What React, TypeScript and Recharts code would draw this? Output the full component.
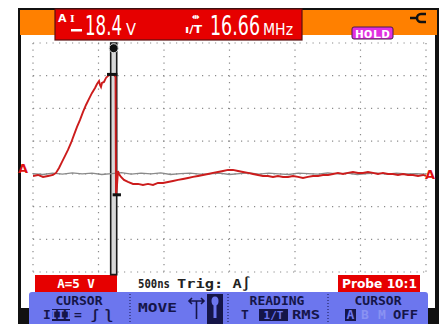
import React from "react";
import {
  LineChart,
  Line,
  XAxis,
  YAxis,
  CartesianGrid,
  ReferenceArea,
  ReferenceLine,
  ReferenceDot,
} from "recharts";

// 500 ns / div, 12 divisions
const timeTicks = [0, 500, 1000, 1500, 2000, 2500, 3000, 3500, 4000, 4500, 5000, 5500, 6000];
// 5 V / div, trace A zero on the 4th line from the top
const voltTicks = [-15, -10, -5, 0, 5, 10, 15, 20];

// trace A (red), time in ns, volts
const redTime = [
  0, 76, 153, 229, 305, 351, 397, 443, 489, 534, 580, 626, 672, 718, 764, 809, 855, 901, 947, 977,
  1008, 1023, 1038, 1053, 1084, 1114, 1145, 1191, 1237, 1260, 1267, 1282, 1298, 1313, 1344, 1389,
  1450, 1527, 1603, 1679, 1756, 1832, 1908, 1985, 2061, 2137, 2214, 2290, 2366, 2443, 2519, 2595,
  2672, 2748, 2824, 2901, 2977, 3053, 3130, 3206, 3282, 3359, 3435, 3511, 3588, 3664, 3740, 3817,
  3893, 3969, 4046, 4122, 4198, 4275, 4351, 4427, 4504, 4580, 4656, 4733, 4809, 4885, 4962, 5038,
  5114, 5191, 5267, 5343, 5420, 5496, 5572, 5649, 5725, 5801, 5878, 5954, 6000,
];
const redVolt = [
  -0.32, -0.17, -0.47, -0.32, -0.17, 0.14, 0.9, 1.82, 2.74, 3.65, 4.72, 5.95, 7.17, 8.24, 9.46,
  10.53, 11.45, 12.37, 13.13, 13.74, 14.2, 13.59, 13.29, 13.9, 14.05, 14.66, 14.97, 15.27, 15.12,
  14.81, -3.38, -1.85, 0.44, -0.02, -0.47, -0.93, -1.24, -1.54, -1.54, -1.7, -1.54, -1.7, -1.39,
  -1.39, -1.24, -1.09, -0.93, -0.78, -0.63, -0.47, -0.32, -0.17, -0.02, 0.14, 0.29, 0.44, 0.6, 0.6,
  0.44, 0.29, 0.14, -0.02, -0.17, -0.32, -0.32, -0.47, -0.32, -0.47, -0.47, -0.32, -0.47, -0.63,
  -0.47, -0.32, -0.32, -0.17, -0.17, -0.02, 0.14, -0.02, 0.14, 0.29, 0.14, 0.14, 0.29, 0.14, -0.02,
  0.14, -0.02, -0.02, -0.17, -0.02, -0.17, -0.17, -0.32, -0.17, -0.32,
];

// reference trace (grey)
const grayTime = [
  0, 150, 300, 450, 600, 750, 900, 1050, 1200, 1350, 1500, 1650, 1800, 1950, 2100, 2250, 2400,
  2550, 2700, 2850, 3000, 3150, 3300, 3450, 3600, 3750, 3900, 4050, 4200, 4350, 4500, 4650, 4800,
  4950, 5100, 5250, 5400, 5550, 5700, 5850, 6000,
];
const grayVolt = [
  0.05, -0.1, 0.1, -0.05, 0.15, 0, 0.1, -0.1, 0.05, 0.2, -0.05, 0.1, 0, 0.15, -0.1, 0.05, 0.1,
  -0.05, 0, 0.1, -0.1, 0.05, 0.15, -0.05, 0.1, 0, -0.1, 0.1, 0.05, -0.05, 0.15, 0, 0.1, -0.1, 0.05,
  0.1, -0.05, 0.1, 0, 0.05, -0.05,
];

// cursor
const cursorStart = 1186;
const cursorEnd = 1278;
const cursorHigh = 15.2;
const cursorLow = -3.2;

const readVolt = "18.4";
const readFreq = "16.66";

const redData = redTime.map((t, i) => ({ t, v: redVolt[i] }));
const grayData = grayTime.map((t, i) => ({ t, v: grayVolt[i] }));

const mono = "'DejaVu Sans Mono', monospace";
const sans = "'DejaVu Sans', sans-serif";
const cond = "'DejaVu Sans Condensed', 'DejaVu Sans', sans-serif";
const navy = "#151548";
const blue = "#6c76ee";
const red = "#e60000";

// big readout digits, squeezed horizontally like the scope font
const Squeezed = ({ x, w, size, sx, children }: { x: number; w: number; size: number; sx: number; children: string }) => (
  <text
    transform={`translate(${x} 35) scale(${sx} 1)`}
    x={0}
    y={0}
    fontSize={size}
    fontFamily={cond}
    textLength={w / sx}
    lengthAdjust="spacingAndGlyphs"
  >
    {children}
  </text>
);

const Chrome = () => (
  <svg width={446} height={324} style={{ position: "absolute", left: 0, top: 0 }}>
    <rect x={18} y={8} width={421} height={316} fill="#111" />
    <rect x={21} y={11} width={414} height={297} fill="#fff" />
    <rect x={20} y={10} width={417} height={25} fill="#ff8000" />
    {/* readout */}
    <rect x={55} y={9} width={247} height={31} fill={red} stroke="#5a1010" strokeWidth={1.2} />
    <g fill="#fff">
      <text x={58} y={22} fontSize={11} fontWeight="bold" fontFamily={sans}>A</text>
      <text x={70} y={22} fontSize={10} fontWeight="bold" fontFamily="'DejaVu Serif', serif">I</text>
      <rect x={71} y={29} width={11} height={2.5} />
      <Squeezed x={85} w={37} size={26} sx={0.68}>{readVolt}</Squeezed>
      <Squeezed x={126} w={10} size={15} sx={0.9}>V</Squeezed>
      <text x={192} y={20} fontSize={9} fontWeight="bold" fontFamily={sans}>⇹</text>
      <text x={185} y={33} fontSize={10} fontWeight="bold" fontFamily={sans} textLength={17} lengthAdjust="spacingAndGlyphs">ı/T</text>
      <Squeezed x={210} w={50} size={26} sx={0.72}>{readFreq}</Squeezed>
      <Squeezed x={263} w={30} size={15} sx={0.9}>MHz</Squeezed>
    </g>
    <rect x={352} y={27} width={41} height={12} rx={2} fill="#e030e0" stroke="#4a1a4a" />
    <text x={355} y={37.5} fontSize={11} fontWeight="bold" fontFamily={mono} fill="#fff" textLength={35} lengthAdjust="spacingAndGlyphs">HOLD</text>
    <g stroke="#111" strokeWidth={2.5} fill="none">
      <path d="M410 18 H417" />
      <path d="M426 14 H421 A4 4 0 0 0 421 22 H426" />
    </g>
    {/* bottom status */}
    <rect x={35} y={275} width={82} height={17} fill={red} />
    <text x={76} y={288} fontSize={12.5} fontWeight="bold" fontFamily={mono} fill="#fff" textAnchor="middle">A=5 V</text>
    <text x={138} y={288} fontSize={13} fontWeight="bold" fontFamily={mono} fill="#222" textLength={32} lengthAdjust="spacingAndGlyphs">500ns</text>
    <text x={177} y={288} fontSize={13} fontWeight="bold" fontFamily={mono} fill="#222" textLength={74} lengthAdjust="spacingAndGlyphs">Trig: A∫</text>
    <rect x={338} y={275} width={82} height={17} fill={red} />
    <text x={342} y={288} fontSize={13} fontWeight="bold" fontFamily={sans} fill="#fff" textLength={75} lengthAdjust="spacingAndGlyphs">Probe 10:1</text>
    {/* soft keys */}
    <rect x={29} y={292} width={399} height={34} rx={3} fill={blue} />
    <g stroke={navy} strokeWidth={1} strokeDasharray="1 2">
      <path d="M130 294 V324" />
      <path d="M228 294 V324" />
      <path d="M328 294 V324" />
    </g>
    <g fill={navy} fontFamily={mono} fontWeight="bold" fontSize={13}>
      <text x={79} y={305} textAnchor="middle">CURSOR</text>
      <text x={43} y={319}>I</text>
      <rect x={52} y={309} width={18} height={12} />
      <text x={61} y={319} textAnchor="middle" fill={blue}>III</text>
      <text x={74} y={319}>=</text>
      <text x={91} y={319}>ʃ</text>
      <text x={105} y={319}>ʅ</text>
      <text x={138} y={312} textLength={39} lengthAdjust="spacingAndGlyphs">MOVE</text>
      <rect x={207} y={294} width={16} height={30} />
      <text x={277} y={305} textAnchor="middle">READING</text>
      <text x={241} y={319}>T</text>
      <rect x={259} y={309} width={29} height={12} />
      <text x={273.5} y={319} textAnchor="middle" fill={blue} fontSize={11}>1/T</text>
      <text x={292} y={319} textLength={28} lengthAdjust="spacingAndGlyphs">RMS</text>
      <text x={378} y={305} textAnchor="middle">CURSOR</text>
      <rect x={345} y={309} width={11} height={12} />
      <text x={350.5} y={319} textAnchor="middle" fill={blue}>A</text>
      <text x={361} y={319} fill="#8a92f2">B</text>
      <text x={378} y={319} fill="#8a92f2">M</text>
      <text x={393} y={319} textLength={25} lengthAdjust="spacingAndGlyphs">OFF</text>
    </g>
    <g stroke={navy} strokeWidth={1.6} fill="none">
      <path d="M189 301 H204 M192 298 L189 301 L192 304 M201 298 L204 301 L201 304 M196.5 301 V319" />
    </g>
    <ellipse cx={215} cy={301} rx={3.5} ry={4.5} fill={blue} />
    <rect x={213.5} y={301} width={3} height={17} fill={blue} />
  </svg>
);

export default function App() {
  return (
    <div style={{ position: "absolute", left: 0, top: 0, width: 446, height: 324, background: "#fff" }}>
      <Chrome />
      <div style={{ position: "absolute", left: 0, top: 0 }}>
        <LineChart width={446} height={324} margin={{ top: 43, right: 20, bottom: 52, left: 33 }}>
          <XAxis dataKey="t" type="number" domain={[0, 6000]} ticks={timeTicks} hide allowDataOverflow />
          <YAxis type="number" domain={[-15, 20]} ticks={voltTicks} hide allowDataOverflow />
          <CartesianGrid stroke="#8a8a8a" strokeWidth={1.2} strokeDasharray="1.2 5.3" />
          <ReferenceArea
            x1={cursorStart}
            x2={cursorEnd}
            y1={-15.4}
            y2={20}
            fill="#d8d8d8"
            fillOpacity={1}
            stroke="#1a1a1a"
            strokeWidth={1.6}
            ifOverflow="visible"
          />
          <ReferenceLine
            y={0}
            stroke="none"
            ifOverflow="visible"
            label={{ value: "A", position: "left", offset: 5, fill: "#e01010", fontSize: 13, fontWeight: "bold", fontFamily: sans, dy: -5 }}
          />
          <ReferenceLine
            y={0}
            stroke="none"
            ifOverflow="visible"
            label={{ value: "A", position: "right", offset: -1, fill: "#e01010", fontSize: 13, fontWeight: "bold", fontFamily: sans, dy: 1 }}
          />
          <Line data={grayData} dataKey="v" type="linear" stroke="#8a8a8a" strokeWidth={1.3} dot={false} isAnimationActive={false} />
          <Line data={redData} dataKey="v" type="linear" stroke="#cc1c1c" strokeWidth={1.9} dot={false} isAnimationActive={false} />
          <ReferenceLine
            segment={[{ x: 1130, y: cursorHigh }, { x: cursorEnd + 10, y: cursorHigh }]}
            stroke="#111"
            strokeWidth={3}
            ifOverflow="visible"
          />
          <ReferenceLine
            segment={[{ x: cursorStart + 30, y: cursorLow }, { x: cursorEnd + 65, y: cursorLow }]}
            stroke="#111"
            strokeWidth={3}
            ifOverflow="visible"
          />
          <ReferenceDot x={(cursorStart + cursorEnd) / 2} y={19.2} r={4.5} fill="#111" stroke="#ddd" strokeWidth={1} ifOverflow="visible" />
        </LineChart>
      </div>
    </div>
  );
}
